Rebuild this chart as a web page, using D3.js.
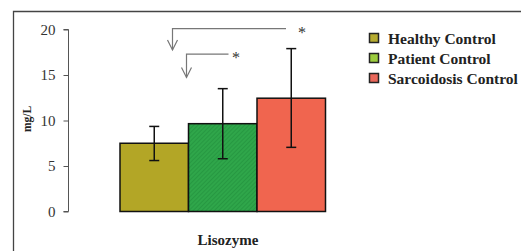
<!DOCTYPE html>
<html><head><meta charset="utf-8">
<script src="https://cdn.jsdelivr.net/npm/d3@7"></script>
<style>body{margin:0;background:#fff;} svg text{font-family:"Liberation Serif","DejaVu Serif",serif;}</style>
</head><body>
<script>
const categories = ["Healthy Control", "Patient Control", "Sarcoidosis Control"];
const means = [7.5, 9.65, 12.45];
const errLow = [5.6, 5.8, 7.05];
const errHigh = [9.35, 13.5, 17.9];
const barColors = ["#b3a626", "#2fa64a", "#f0654f"];
const legendColors = ["#b5ab30", "#9ccc3e", "#e9675a"];
const yTicks = [0, 5, 10, 15, 20];
const groupLabel = "Lisozyme";
const yLabel = "mg/L";
const sigLevels = [20.1, 17.3];

const FONT = "'Liberation Serif', 'DejaVu Serif', serif";
const W = 521, H = 251;
const svg = d3.select("body").append("svg").attr("width", W).attr("height", H);

svg.append("path").attr("d", `M13.5,${H+5} V11.5 H${W+5}`).attr("fill","none").attr("stroke","#444").attr("stroke-width",1.3);

const y = d3.scaleLinear().domain([0, 20]).range([211.5, 29.5]);
const x = d3.scaleBand().domain(categories).range([120, 325.5]).padding(0);

const defs = svg.append("defs");
const hatch = defs.append("pattern").attr("id","hatch").attr("patternUnits","userSpaceOnUse").attr("width",3).attr("height",3).attr("patternTransform","rotate(45)");
hatch.append("rect").attr("width",3).attr("height",3).attr("fill",barColors[1]);
hatch.append("line").attr("x1",0).attr("y1",0).attr("x2",0).attr("y2",3).attr("stroke","#1f8a3a").attr("stroke-width",1);

const yAxis = d3.axisLeft(y).tickValues(yTicks).tickSize(5).tickPadding(8);
const ag = svg.append("g").attr("transform","translate(68.5,0)").call(yAxis);
ag.attr("font-family", FONT);
ag.select(".domain").attr("stroke","#555").attr("d","M-5,29.5H0V211.5H-5");
ag.selectAll(".tick line").attr("stroke","#555");
ag.selectAll(".tick text").attr("font-family",FONT).attr("font-size",15).attr("fill","#333");

svg.append("text").attr("transform","translate(31,119) rotate(-90)").attr("text-anchor","middle")
  .attr("font-family",FONT).attr("font-size",11.5).attr("font-weight","bold").attr("fill","#222").text(yLabel);

svg.selectAll("rect.bar").data(categories).join("rect").attr("class","bar")
  .attr("x", d => x(d)).attr("width", x.bandwidth())
  .attr("y", (d,i) => y(means[i])).attr("height", (d,i) => y(0) - y(means[i]))
  .attr("fill", (d,i) => i === 1 ? "url(#hatch)" : barColors[i])
  .attr("stroke","#111").attr("stroke-width",1.5);

const eg = svg.append("g").attr("stroke","#111").attr("stroke-width",1.5);
categories.forEach((c,i) => {
  const cx = x(c) + x.bandwidth()/2;
  eg.append("line").attr("x1",cx).attr("x2",cx).attr("y1",y(errLow[i])).attr("y2",y(errHigh[i]));
  eg.append("line").attr("x1",cx-5).attr("x2",cx+5).attr("y1",y(errLow[i])).attr("y2",y(errLow[i]));
  eg.append("line").attr("x1",cx-5).attr("x2",cx+5).attr("y1",y(errHigh[i])).attr("y2",y(errHigh[i]));
});

const brackets = [
  {x0: 172.5, x1: 286, yTop: y(sigLevels[0]), yBot: 50, star: 302},
  {x0: 186.5, x1: 228.5, yTop: y(sigLevels[1]), yBot: 77.5, star: 236}
];
const bg = svg.append("g").attr("fill","none").attr("stroke","#777").attr("stroke-width",1.2);
brackets.forEach(b => {
  bg.append("path").attr("d", `M${b.x1},${b.yTop}H${b.x0}V${b.yBot}`);
  bg.append("path").attr("d", `M${b.x0-5},${b.yBot-10}L${b.x0},${b.yBot}L${b.x0+5},${b.yBot-10}`);
  svg.append("text").attr("x", b.star).attr("y", b.yTop + 9).attr("text-anchor","middle")
    .attr("font-family",FONT).attr("font-size",16).attr("fill","#333").text("*");
});

svg.append("text").attr("x", 228).attr("y", 245).attr("text-anchor","middle")
  .attr("font-family",FONT).attr("font-size",15).attr("font-weight","bold").attr("fill","#222").text(groupLabel);

const lg = svg.append("g");
categories.forEach((c,i) => {
  const ly = 38.5 + i*20;
  lg.append("rect").attr("x",369.5).attr("y",ly-5).attr("width",9).attr("height",9)
    .attr("fill",legendColors[i]).attr("stroke","#222").attr("stroke-width",1.5);
  lg.append("text").attr("x",388).attr("y",ly+5).attr("font-family",FONT).attr("font-size",15.5).attr("font-weight","bold").attr("fill","#222").text(c);
});
</script>
</body></html>
